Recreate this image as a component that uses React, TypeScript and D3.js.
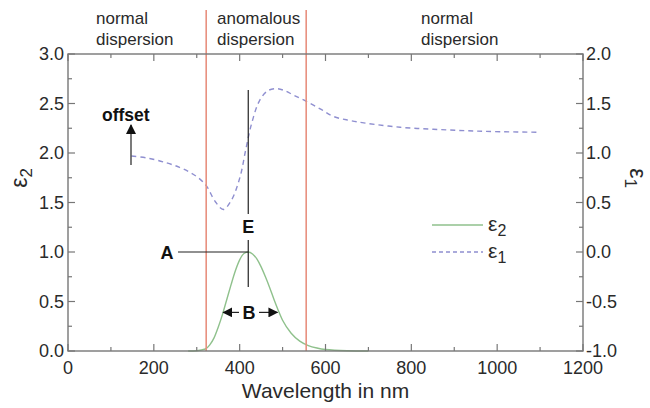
import React from "react";
import * as d3 from "d3";

const eps2Nm = [280, 300, 320, 330, 340, 350, 360, 370, 380, 390, 400, 410, 420, 430, 440, 450, 460, 470, 480, 490, 500, 520, 540, 560, 580, 600, 650, 700];
const eps2Val = [0, 0.003, 0.02, 0.06, 0.13, 0.24, 0.37, 0.52, 0.67, 0.81, 0.92, 0.985, 1.0, 0.98, 0.93, 0.85, 0.75, 0.64, 0.52, 0.41, 0.31, 0.18, 0.1, 0.055, 0.03, 0.015, 0.003, 0];

const eps1Nm = [148, 190, 230, 260, 284, 305, 323, 343, 362, 381, 401, 414, 428, 447, 466, 486, 505, 525, 556, 590, 618, 655, 696, 774, 851, 929, 1007, 1100];
const eps1Val = [0.97, 0.945, 0.9, 0.855, 0.805, 0.745, 0.665, 0.51, 0.43, 0.525, 0.76, 1.03, 1.3, 1.535, 1.63, 1.65, 1.63, 1.586, 1.52, 1.44, 1.37, 1.33, 1.3, 1.26, 1.24, 1.225, 1.215, 1.21];

const xTicks = [0, 200, 400, 600, 800, 1000, 1200];
const leftTicks = [0, 0.5, 1.0, 1.5, 2.0, 2.5, 3.0];
const rightTicks = [-1.0, -0.5, 0.0, 0.5, 1.0, 1.5, 2.0];
const regionBounds = [322, 555];

const W = 650, H = 408;
const L = 68, R = 583, T = 54, B = 351;
const FONT = "'Liberation Sans', Arial, sans-serif";
const AXC = "#777";
const TXT = "#2a2a2a";

export default function App() {
  const x = d3.scaleLinear().domain([0, 1200]).range([L, R]);
  const yL = d3.scaleLinear().domain([0, 3]).range([B, T]);
  const yR = d3.scaleLinear().domain([-1, 2]).range([B, T]);

  const line2 = d3.line<number>().x((d, i) => x(eps2Nm[i])).y((d) => yL(d)).curve(d3.curveMonotoneX);
  const line1 = d3.line<number>().x((d, i) => x(eps1Nm[i])).y((d) => yR(d)).curve(d3.curveCatmullRom);

  const xMinor = d3.range(100, 1200, 200);
  const yMinor = d3.range(0.25, 3, 0.5);
  const yRMinor = d3.range(-0.75, 2, 0.5);

  const peakX = x(420);
  const peakY = yL(1.0);
  const bY = yL(0.39);

  return (
    <svg width={W} height={H} style={{ position: "absolute", left: 0, top: 0, background: "#fff" }} fontFamily={FONT}>
      <defs>
        <marker id="ah" viewBox="0 0 10 10" refX="9" refY="5" markerWidth="10" markerHeight="10" markerUnits="userSpaceOnUse" orient="auto-start-reverse">
          <path d="M0,0 L10,5 L0,10 z" fill="#111" />
        </marker>
      </defs>

      {/* region labels */}
      <g fontSize={17} fill={TXT}>
        <text x={96} y={24}>normal</text>
        <text x={96} y={45}>dispersion</text>
        <text x={217} y={24}>anomalous</text>
        <text x={217} y={45}>dispersion</text>
        <text x={421} y={24}>normal</text>
        <text x={421} y={45}>dispersion</text>
      </g>

      {/* curves */}
      <path d={line2(eps2Val) || ""} fill="none" stroke="#8fc18c" strokeWidth={1.4} />
      <path d={line1(eps1Val) || ""} fill="none" stroke="#8f8fd0" strokeWidth={1.4} strokeDasharray="5,4" />

      {/* red region lines */}
      {regionBounds.map((b) => (
        <line key={b} x1={x(b)} x2={x(b)} y1={10} y2={B} stroke="#e8907f" strokeWidth={1.6} />
      ))}

      {/* frame */}
      <rect x={L} y={T} width={R - L} height={B - T} fill="none" stroke={AXC} strokeWidth={1.4} />

      {/* x ticks */}
      {xTicks.map((t) => (
        <g key={"x" + t}>
          <line x1={x(t)} x2={x(t)} y1={B} y2={B - 7} stroke={AXC} strokeWidth={1.2} />
          <line x1={x(t)} x2={x(t)} y1={T} y2={T + 7} stroke={AXC} strokeWidth={1.2} />
          <text x={x(t)} y={374} fontSize={18} textAnchor="middle" fill={TXT}>{t}</text>
        </g>
      ))}
      {xMinor.map((t) => (
        <g key={"xm" + t}>
          <line x1={x(t)} x2={x(t)} y1={B} y2={B - 4} stroke={AXC} strokeWidth={1.2} />
          <line x1={x(t)} x2={x(t)} y1={T} y2={T + 4} stroke={AXC} strokeWidth={1.2} />
        </g>
      ))}

      {/* left ticks */}
      {leftTicks.map((t) => (
        <g key={"l" + t}>
          <line x1={L} x2={L + 7} y1={yL(t)} y2={yL(t)} stroke={AXC} strokeWidth={1.2} />
          <text x={64} y={yL(t) + 6} fontSize={18} textAnchor="end" fill={TXT}>{t.toFixed(1)}</text>
        </g>
      ))}
      {yMinor.map((t) => (
        <line key={"lm" + t} x1={L} x2={L + 4} y1={yL(t)} y2={yL(t)} stroke={AXC} strokeWidth={1.2} />
      ))}

      {/* right ticks */}
      {rightTicks.map((t) => (
        <g key={"r" + t}>
          <line x1={R} x2={R - 7} y1={yR(t)} y2={yR(t)} stroke={AXC} strokeWidth={1.2} />
          <text x={586} y={yR(t) + 6} fontSize={18} textAnchor="start" fill={TXT}>{t.toFixed(1)}</text>
        </g>
      ))}
      {yRMinor.map((t) => (
        <line key={"rm" + t} x1={R} x2={R - 4} y1={yR(t)} y2={yR(t)} stroke={AXC} strokeWidth={1.2} />
      ))}

      {/* axis titles */}
      <text x={(L + R) / 2} y={398} fontSize={21} textAnchor="middle" fill={TXT}>Wavelength in nm</text>
      <text transform="translate(27,178) rotate(-90)" fontSize={23} textAnchor="middle" fill={TXT}>
        ε<tspan fontSize={17} dy={5}>2</tspan>
      </text>
      <text transform="translate(630,178) rotate(90)" fontSize={23} textAnchor="middle" fill={TXT}>
        ε<tspan fontSize={17} dy={5}>1</tspan>
      </text>

      {/* annotations */}
      <g stroke="#222" strokeWidth={1.2}>
        <line x1={peakX} x2={peakX} y1={90} y2={214} />
        <line x1={peakX} x2={peakX} y1={240} y2={287} />
        <line x1={178} x2={peakX} y1={peakY} y2={peakY} />
        <line x1={x(362)} x2={239} y1={bY} y2={bY} markerStart="url(#ah)" />
        <line x1={259} x2={x(488)} y1={bY} y2={bY} markerEnd="url(#ah)" />
        <line x1={131} x2={131} y1={165} y2={125} markerEnd="url(#ah)" />
      </g>
      <g fontSize={18} fontWeight="bold" fill="#111">
        <text x={peakX} y={233} textAnchor="middle">E</text>
        <text x={167} y={259} textAnchor="middle">A</text>
        <text x={249} y={319} textAnchor="middle">B</text>
        <text x={102} y={121} fontSize={17.5}>offset</text>
      </g>

      {/* legend */}
      <line x1={432} x2={483} y1={225} y2={225} stroke="#8fc18c" strokeWidth={1.4} />
      <text x={488} y={231} fontSize={21} fill={TXT}>ε<tspan fontSize={16} dy={5}>2</tspan></text>
      <line x1={432} x2={483} y1={252} y2={252} stroke="#8f8fd0" strokeWidth={1.4} strokeDasharray="4,3" />
      <text x={488} y={258} fontSize={21} fill={TXT}>ε<tspan fontSize={16} dy={5}>1</tspan></text>
    </svg>
  );
}
